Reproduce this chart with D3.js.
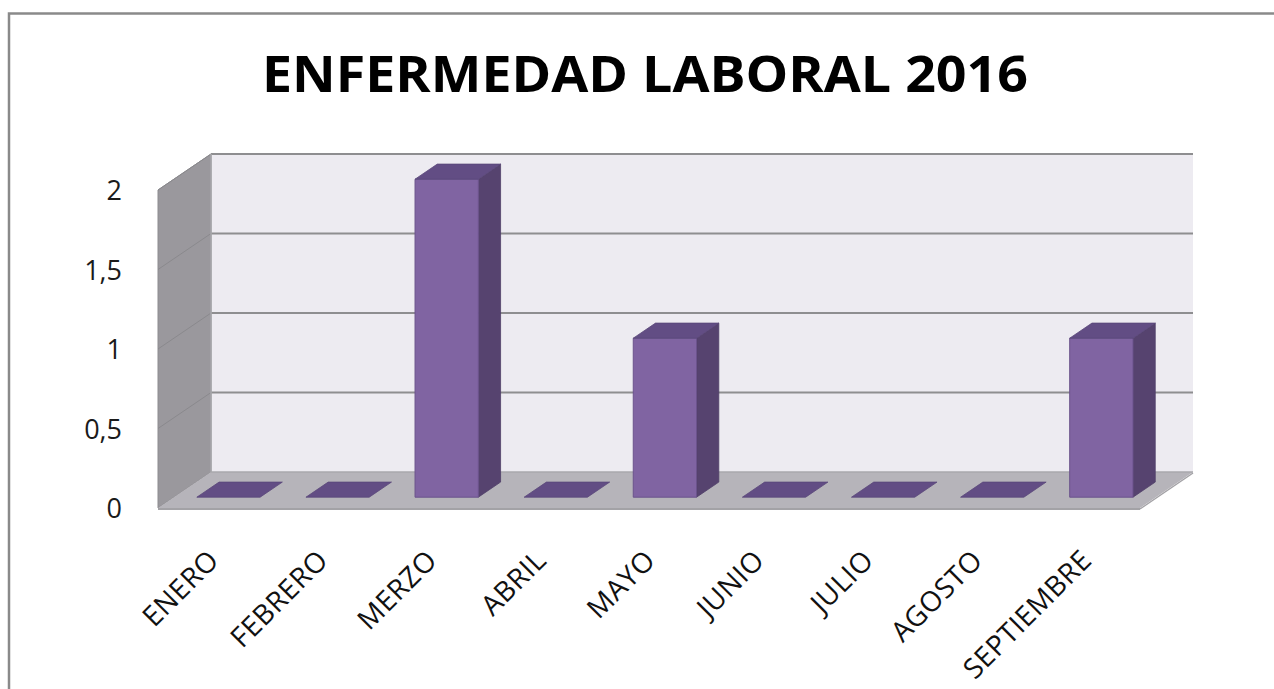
<!DOCTYPE html>
<html><head><meta charset="utf-8">
<script src="https://cdn.jsdelivr.net/npm/d3@7"></script>
<style>body{margin:0;background:#fff}svg{display:block}</style>
</head><body>
<svg id="c" width="1274" height="689"></svg>
<script>
const categories = ["ENERO","FEBRERO","MERZO","ABRIL","MAYO","JUNIO","JULIO","AGOSTO","SEPTIEMBRE"];
const values = [0,0,2,0,1,0,0,0,1];
const yTicks = [0,0.5,1,1.5,2];
const yTickLabels = ["0","0,5","1","1,5","2"];
const title = "ENFERMEDAD LABORAL 2016";

const svg = d3.select("#c");
const font = "'Open Sans', sans-serif";

// front plane geometry
const x0 = 158, x1 = 1140, yFloor = 508;
const depth = [53, -36];
const z0 = 0.3, z1 = 0.72;

const x = d3.scaleBand().domain(categories).range([x0, x1]).paddingInner(0.42).paddingOuter(0.21);
const slot = d3.scaleBand().domain(categories).range([x0, x1]);
const y = d3.scaleLinear().domain([0, 2]).range([yFloor, 190]);

const P = (px, v, z) => [px + depth[0]*z, y(v) + depth[1]*z];
const poly = pts => "M" + pts.map(p => p.join(",")).join("L") + "Z";

// border
svg.append("rect").attr("x", 9).attr("y", 13.5).attr("width", 1300).attr("height", 700)
  .attr("fill", "none").attr("stroke", "#8a8a8a").attr("stroke-width", 2.5);

// title
svg.append("text").attr("x", 645).attr("y", 92).attr("text-anchor", "middle")
  .attr("font-family", font).attr("font-weight", 700).attr("font-size", 51)
  .attr("textLength", 766).attr("lengthAdjust", "spacingAndGlyphs")
  .attr("fill", "#000").text(title);

// back wall
svg.append("path").attr("d", poly([P(x0,0,1), P(x0,2,1), P(x1,2,1), P(x1,0,1)]))
  .attr("fill", "#edebf1");
// left wall
svg.append("path").attr("d", poly([P(x0,0,0), P(x0,2,0), P(x0,2,1), P(x0,0,1)]))
  .attr("fill", "#9a989d").attr("stroke", "#8c8b8f").attr("stroke-width", 1);
// floor
svg.append("path").attr("d", poly([P(x0,0,0), P(x1,0,0), P(x1,0,1), P(x0,0,1)]))
  .attr("fill", "#b6b4ba");
svg.append("line").attr("x1", P(x0,0,0)[0]).attr("y1", P(x0,0,0)[1]+1).attr("x2", P(x1,0,0)[0]).attr("y2", P(x1,0,0)[1]+1)
  .attr("stroke", "#a3a2a6").attr("stroke-width", 2);
svg.append("line").attr("x1", P(x1,0,0)[0]).attr("y1", P(x1,0,0)[1]+1).attr("x2", P(x1,0,1)[0]).attr("y2", P(x1,0,1)[1]+1)
  .attr("stroke", "#a3a2a6").attr("stroke-width", 1.5);

// gridlines
yTicks.forEach(t => {
  if (t > 0) {
    svg.append("line").attr("x1", P(x0,t,1)[0]).attr("y1", P(x0,t,1)[1]).attr("x2", P(x1,t,1)[0]).attr("y2", P(x1,t,1)[1])
      .attr("stroke", "#8e8e90").attr("stroke-width", 2);
    svg.append("line").attr("x1", P(x0,t,0)[0]).attr("y1", P(x0,t,0)[1]).attr("x2", P(x0,t,1)[0]).attr("y2", P(x0,t,1)[1])
      .attr("stroke", "#8a898d").attr("stroke-width", 1);
  }
});
svg.append("line").attr("x1", P(x0,0,1)[0]).attr("y1", P(x0,0,1)[1]).attr("x2", P(x1,0,1)[0]).attr("y2", P(x1,0,1)[1])
  .attr("stroke", "#a9a8ad").attr("stroke-width", 1.5);
svg.append("line").attr("x1", P(x0,0,1)[0]).attr("y1", P(x0,0,1)[1]).attr("x2", P(x0,2,1)[0]).attr("y2", P(x0,2,1)[1])
  .attr("stroke", "#a9a8ad").attr("stroke-width", 1.5);

// y labels
yTicks.forEach((t, i) => {
  svg.append("text").attr("x", 122).attr("y", y(t) + 10).attr("text-anchor", "end")
    .attr("font-family", font).attr("font-size", 27).attr("fill", "#1a1a1a").text(yTickLabels[i]);
});

// bars
const bars = svg.append("g");
categories.forEach((c, i) => {
  const v = values[i];
  const bx0 = x(c), bx1 = x(c) + x.bandwidth();
  if (v > 0) {
    bars.append("path").attr("d", poly([P(bx1,0,z0), P(bx1,v,z0), P(bx1,v,z1), P(bx1,0,z1)]))
      .attr("fill", "#56436f").attr("stroke", "#4f3f68").attr("stroke-width", 0.8);
    bars.append("path").attr("d", poly([P(bx0,0,z0), P(bx0,v,z0), P(bx1,v,z0), P(bx1,0,z0)]))
      .attr("fill", "#8064a2").attr("stroke", "#6b538c").attr("stroke-width", 1);
  }
  bars.append("path").attr("d", poly([P(bx0,v,z0), P(bx1,v,z0), P(bx1,v,z1), P(bx0,v,z1)]))
    .attr("fill", "#624d84").attr("stroke", "#5a477a").attr("stroke-width", 0.8);
});

// x labels
categories.forEach(c => {
  const cx = slot(c) + slot.bandwidth()/2 + 8;
  svg.append("text").attr("transform", `translate(${cx},${562}) rotate(-45)`)
    .attr("text-anchor", "end").attr("font-family", font).attr("font-size", 28)
    .attr("letter-spacing", 0.5).attr("fill", "#111").text(c);
});
</script>
</body></html>
